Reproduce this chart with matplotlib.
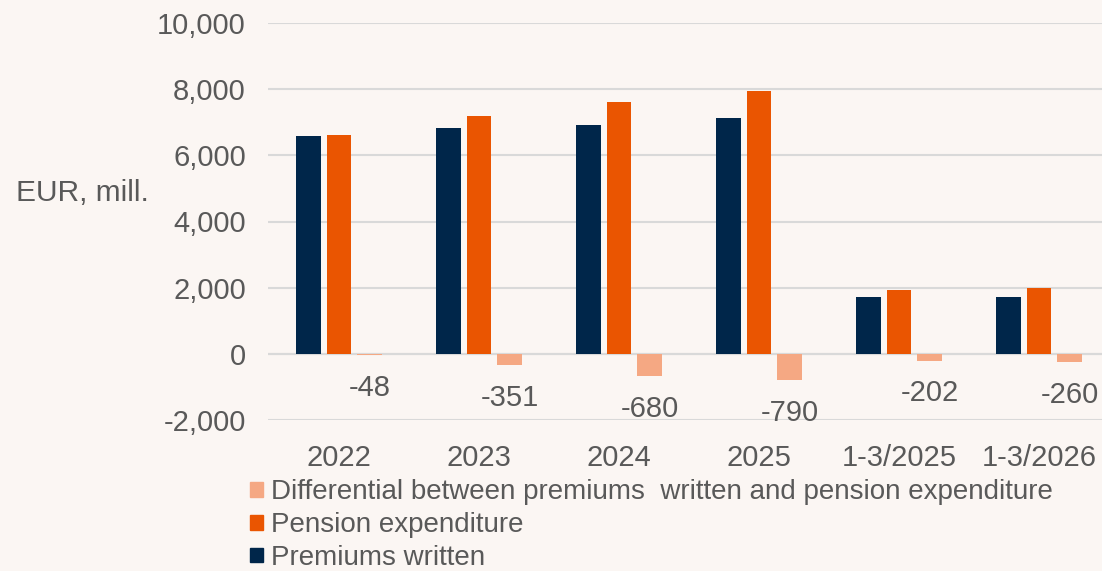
import matplotlib
matplotlib.use("Agg")
import matplotlib.pyplot as plt
from matplotlib.patches import Patch
import numpy as np

categories = ["2022", "2023", "2024", "2025", "1-3/2025", "1-3/2026"]
premiums = [6570, 6830, 6930, 7140, 1730, 1730]
differential = [-48, -351, -680, -790, -202, -260]
pension = [p - d for p, d in zip(premiums, differential)]
yticks = [-2000, 0, 2000, 4000, 6000, 8000, 10000]

c_navy = "#00264A"
c_orange = "#EA5501"
c_salmon = "#F5A883"
bg = "#FBF6F3"
txt = "#595959"

plt.rcParams['font.family'] = ['Liberation Sans', 'DejaVu Sans']

fig = plt.figure(figsize=(11.02, 5.71), dpi=100, facecolor=bg)
W, H = 1102, 571
ax = fig.add_axes([268 / W, (H - 420) / H, (1102 - 268) / W, (420 - 23) / H])
ax.set_facecolor(bg)

x = np.arange(len(categories))
bw = 0.178
off = 0.221
ax.bar(x - off, premiums, bw, color=c_navy, zorder=3)
ax.bar(x, pension, bw, color=c_orange, zorder=3)
ax.bar(x + off, differential, bw, color=c_salmon, zorder=3)

for xi, d in zip(x, differential):
    ax.annotate(f"{d}", (xi + off, d), xytext=(0, -23.5), textcoords="offset points",
                ha="center", va="center", fontsize=21, color=txt)

ax.set_ylim(-2000, 10000)
ax.set_xlim(-0.507, 5.45)
ax.set_yticks(yticks)
ax.set_yticklabels([f"{v:,}" for v in yticks])
ax.set_xticks(x)
ax.set_xticklabels(categories)
ax.tick_params(axis="y", length=0, pad=16, labelsize=21, labelcolor=txt)
ax.tick_params(axis="x", length=0, pad=17, labelsize=21, labelcolor=txt)
ax.grid(axis="y", color="#D9D9D9", linewidth=1.5, zorder=0)
for s in ax.spines.values():
    s.set_visible(False)
ax.axhline(0, color="#D9D9D9", linewidth=1.5, zorder=1)

fig.text(16 / W, 1 - 193 / H, "EUR, mill.", fontsize=21.5, color=txt, ha="left", va="center")

handles = [Patch(color=c_salmon), Patch(color=c_orange), Patch(color=c_navy)]
labels = ["Differential between premiums  written and pension expenditure",
          "Pension expenditure", "Premiums written"]
leg = fig.legend(handles, labels, loc="upper left", bbox_to_anchor=(250 / W, 1 - 479 / H),
                 frameon=False, fontsize=20, handlelength=0.45, handleheight=0.45,
                 handletextpad=0.3, labelspacing=0.25, borderpad=0, borderaxespad=0)
for t in leg.get_texts():
    t.set_color(txt)

fig.savefig("out.png", dpi=100, facecolor=bg)
